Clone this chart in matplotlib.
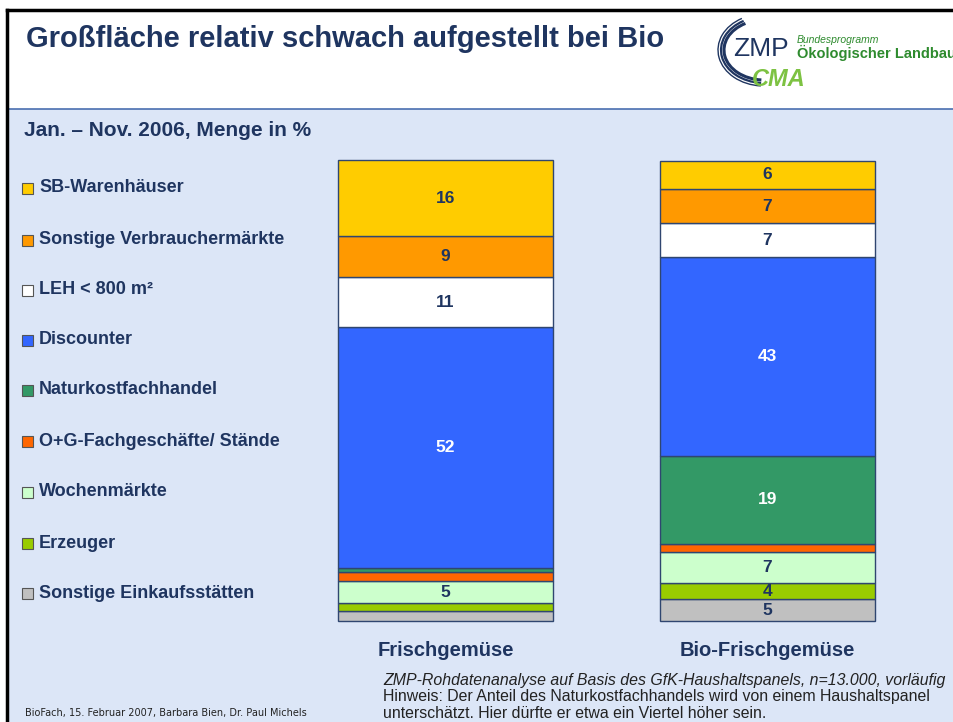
import matplotlib
matplotlib.use("Agg")
import matplotlib.pyplot as plt
from matplotlib.patches import Rectangle, Arc

# ---------------- data ----------------
categories = ["Frischgemüse", "Bio-Frischgemüse"]
segments = ["Sonstige Einkaufsstätten", "Erzeuger", "Wochenmärkte",
            "O+G-Fachgeschäfte/ Stände", "Naturkostfachhandel", "Discounter",
            "LEH < 800 m²", "Sonstige Verbrauchermärkte", "SB-Warenhäuser"]
frisch = [2.2, 1.7, 4.7, 2.1, 0.9, 52.1, 10.9, 8.9, 16.5]
bio = [4.7, 3.5, 6.7, 1.9, 18.9, 43.2, 7.4, 7.4, 6.1]
frisch_labels = ["", "", "5", "", "", "52", "11", "9", "16"]
bio_labels = ["5", "4", "7", "", "19", "43", "7", "7", "6"]
colors = ["#C0C0C0", "#99CC00", "#CCFFCC", "#FF6600", "#339966",
          "#3366FF", "#FFFFFF", "#FF9900", "#FFCC00"]
label_colors = ["#1F3560"] * 4 + ["white", "white"] + ["#1F3560"] * 3
legend_order = list(range(8, -1, -1))

W, H = 954, 722
NAVY = "#1F3560"
FONT = "Liberation Sans"
fig = plt.figure(figsize=(W / 100, H / 100), dpi=100)
fig.patch.set_facecolor("white")

def fx(px):
    return px / W

def fy(py):
    return 1 - py / H

# background panel
bg = fig.add_axes([0, 0, 1, 1])
bg.set_xlim(0, W)
bg.set_ylim(H, 0)
bg.axis("off")
bg.add_patch(Rectangle((7, 109), W, H, facecolor="#DCE6F7", edgecolor="none"))
bg.plot([7, W], [109, 109], color="#4A6FB0", lw=1.2)
bg.plot([7, W], [10, 10], color="black", lw=2.5)
bg.plot([7, 7], [10, H], color="black", lw=2.5)

# title
bg.text(26, 39, "Großfläche relativ schwach aufgestellt bei Bio", fontsize=21,
        fontweight="bold", color=NAVY, va="center", ha="left", family=FONT)
bg.text(24, 131, "Jan. – Nov. 2006, Menge in %", fontsize=15, fontweight="bold",
        color=NAVY, va="center", ha="left", family=FONT)

# logo (approximation)
for k, lw in enumerate([2.2, 1.6, 1.0]):
    bg.add_patch(Arc((764, 50), 2 * (40 + 3 * k), 2 * (30 + 3 * k),
                     theta1=95, theta2=235, color="#1F3560", lw=lw))
bg.text(733, 49, "ZMP", fontsize=19, color="#1F3560", va="center", ha="left",
        family=FONT)
bg.text(797, 40, "Bundesprogramm", fontsize=7.5, style="italic", color="#2E8B2E",
        va="center", ha="left", family=FONT)
bg.text(797, 53, "Ökologischer Landbau", fontsize=10.5, fontweight="bold",
        color="#2E8B2E", va="center", ha="left", family=FONT)
bg.text(752, 79, "CMA", fontsize=17, fontweight="bold", style="italic",
        color="#7DC242", va="center", ha="left", family=FONT)

# legend
legend_y = [188, 240, 290, 340, 390, 441, 492, 543, 593]
for i, yy in zip(legend_order, legend_y):
    bg.add_patch(Rectangle((22, yy - 5.5), 11, 11, facecolor=colors[i],
                           edgecolor="#555555", lw=0.8))
    bg.text(39, yy, segments[i], fontsize=13, fontweight="bold", color=NAVY,
            va="center", ha="left", family=FONT)

# bars
ax = fig.add_axes([fx(338), fy(621), fx(875) - fx(338), fy(160) - fy(621)])
ax.set_xlim(-0.334, 1.334)
ax.set_ylim(0, 100)
ax.axis("off")
width = 0.668
for xi, (vals, labs) in enumerate([(frisch, frisch_labels), (bio, bio_labels)]):
    bottom = 0
    for v, c, lab, lc in zip(vals, colors, labs, label_colors):
        ax.bar(xi, v, width=width, bottom=bottom, color=c, edgecolor="#2F4670",
               linewidth=1.0, clip_on=False)
        if lab:
            ax.text(xi, bottom + v / 2, lab, ha="center", va="center",
                    fontsize=12.5, fontweight="bold", color=lc, family=FONT)
        bottom += v

for xi, cat in zip([446, 767], categories):
    bg.text(xi, 650, cat, fontsize=14.5, fontweight="bold", color=NAVY,
            ha="center", va="center", family=FONT)

# notes
bg.text(383, 680, "ZMP-Rohdatenanalyse auf Basis des GfK-Haushaltspanels, n=13.000, vorläufig",
        fontsize=11.4, style="italic", color="#222222", ha="left", va="center",
        family=FONT)
bg.text(383, 697, "Hinweis: Der Anteil des Naturkostfachhandels wird von einem Haushaltspanel",
        fontsize=11.4, color="#222222", ha="left", va="center", family=FONT)
bg.text(383, 714, "unterschätzt. Hier dürfte er etwa ein Viertel höher sein.",
        fontsize=11.4, color="#222222", ha="left", va="center", family=FONT)
bg.text(25, 713, "BioFach, 15. Februar 2007, Barbara Bien, Dr. Paul Michels",
        fontsize=7, color="#222222", ha="left", va="center", family="Liberation Sans Narrow")

fig.savefig("out.png", dpi=100, facecolor=fig.get_facecolor())
